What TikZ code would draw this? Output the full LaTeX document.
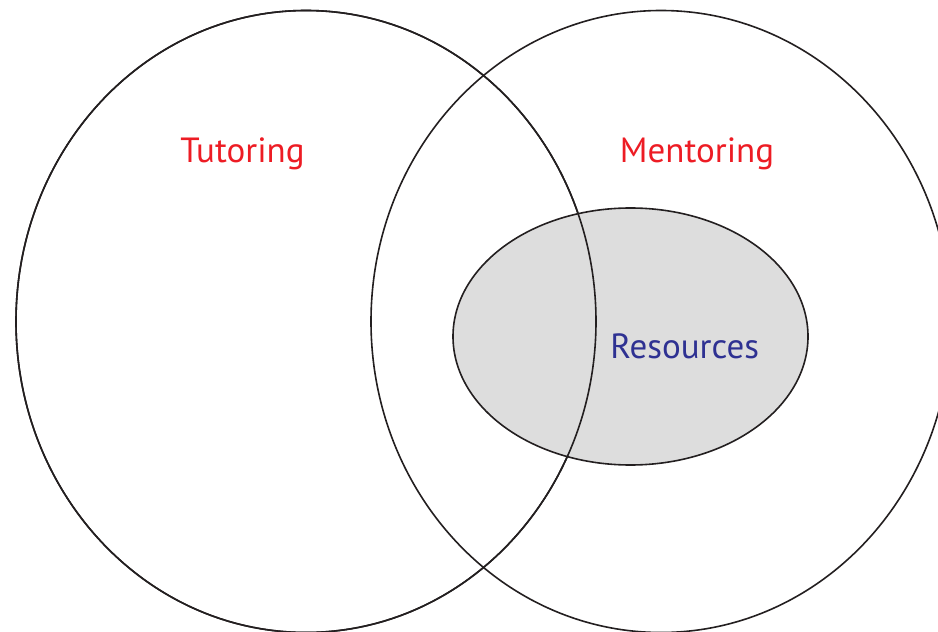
\documentclass[tikz,border=0pt]{standalone}
\usepackage{fontspec}
\setmainfont{PT Sans}
\definecolor{lineC}{HTML}{231F20}
\definecolor{fillC}{HTML}{DDDDDD}
\definecolor{redC}{HTML}{ED1C24}
\definecolor{blueC}{HTML}{2E3192}
\begin{document}
\begin{tikzpicture}[x=1bp,y=-1bp,
  ring/.style={draw=lineC,line width=1.6bp},
  label/.style={anchor=base,inner sep=0pt,font=\fontsize{35bp}{40bp}\selectfont}]
\useasboundingbox (0,0) rectangle (938,632);
\begin{scope}
\clip (0,0) rectangle (938,632);
\draw[ring] (306,321.5) ellipse [x radius=290, y radius=311];
\draw[ring] (661,321.5) ellipse [x radius=290, y radius=311];
\draw[ring,fill=fillC] (630.5,336.5) ellipse [x radius=177.5, y radius=128.5];
\draw[ring] (306,321.5) ellipse [x radius=290, y radius=311];
\end{scope}
\node[label,text=redC] (tut) at (242.5,163) {Tutoring};
\node[label,text=redC] (men) at (697,163) {Mentoring};
\node[label,text=blueC] (res) at (684.7,358.5) {Resources};
\end{tikzpicture}
\end{document}
